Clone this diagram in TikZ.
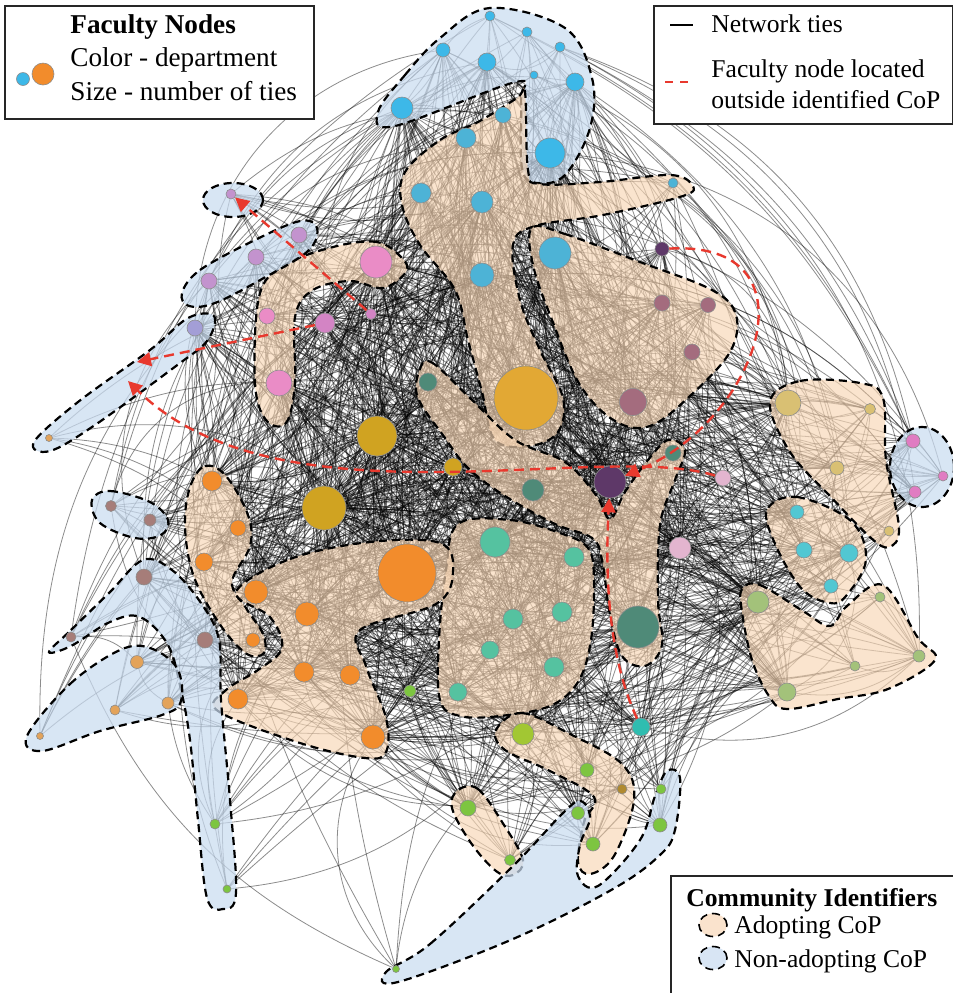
\documentclass[tikz,border=0pt]{standalone}
\usepackage{fontspec}
\setmainfont{Liberation Serif}
\usetikzlibrary{
  arrows.meta,
  shapes.geometric,
  positioning
}
\definecolor{deptcyan}{HTML}{3DB8E8}
\definecolor{deptsky}{HTML}{4DB3D6}
\definecolor{deptgold}{HTML}{E2A834}
\definecolor{deptmauve}{HTML}{A46C7E}
\definecolor{deptplum}{HTML}{5E3868}
\definecolor{deptpink}{HTML}{EA8CC6}
\definecolor{deptorchid}{HTML}{D384C4}
\definecolor{deptlilac}{HTML}{C393CE}
\definecolor{deptlav}{HTML}{A39ED6}
\definecolor{deptsand}{HTML}{E3A35A}
\definecolor{deptpine}{HTML}{4F8A78}
\definecolor{deptochre}{HTML}{D0A321}
\definecolor{deptorange}{HTML}{F28C2C}
\definecolor{deptrose}{HTML}{A67D79}
\definecolor{deptgreen}{HTML}{7DC540}
\definecolor{deptlime}{HTML}{A2C733}
\definecolor{deptbronze}{HTML}{B08A30}
\definecolor{deptmint}{HTML}{55C2A0}
\definecolor{deptteal}{HTML}{2FBDB0}
\definecolor{deptblush}{HTML}{E3B5CF}
\definecolor{deptwheat}{HTML}{D9C073}
\definecolor{deptmagenta}{HTML}{E07CC2}
\definecolor{deptaqua}{HTML}{52C7D2}
\definecolor{deptsage}{HTML}{A3C27A}
\definecolor{adoptfill}{HTML}{F8D6B4}
\definecolor{nonadoptfill}{HTML}{C9DCF0}
\definecolor{movered}{HTML}{E8392E}

\pgfdeclarelayer{ties}
\pgfdeclarelayer{hulls}
\pgfdeclarelayer{keys}
\pgfsetlayers{ties,hulls,main,keys}

% x / y / diameter / department / name  (grid of the figure, y downwards)
\newcommand{\facultylist}{
  490/16/10/deptcyan/top1, 527/32/10/deptcyan/top2, 443/50/14/deptcyan/top3,
  487/62/18/deptcyan/top4, 560/47/10/deptcyan/top5, 534/75/8/deptcyan/top6,
  575/82/18/deptcyan/top7, 402/108/22/deptcyan/top8, 550/153/30/deptcyan/top9,
  503/115/16/deptsky/sky1, 466/138/20/deptsky/sky2, 421/193/20/deptsky/sky3,
  482/202/22/deptsky/sky4, 482/275/24/deptsky/sky5, 555/253/32/deptsky/sky6,
  673/183/10/deptsky/sky7, 526/398/64/deptgold/gold1,
  662/303/16/deptmauve/mau1, 708/305/15/deptmauve/mau2,
  692/352/16/deptmauve/mau3, 633/402/27/deptmauve/mau4,
  662/249/14/deptplum/plum1, 610/482/32/deptplum/plum2,
  376/262/32/deptpink/pink1, 267/316/16/deptpink/pink2,
  279/383/26/deptpink/pink3, 325/323/20/deptorchid/pink4,
  371/314/11/deptorchid/pink5,
  231/194/10/deptlilac/lil1, 299/235/16/deptlilac/lil2,
  256/257/16/deptlilac/lil3, 209/281/16/deptlilac/lil4,
  195/328/16/deptlav/lav1, 49/438/7/deptsand/sand1,
  428/382/18/deptpine/pine1, 533/490/22/deptpine/pine2,
  673/453/16/deptpine/pine3, 638/627/42/deptpine/pine4,
  377/436/40/deptochre/och1, 324/508/44/deptochre/och2,
  453/467/18/deptochre/och3,
  407/573/58/deptorange/org1, 212/481/20/deptorange/org2,
  238/528/16/deptorange/org3, 204/562/18/deptorange/org4,
  256/592/24/deptorange/org5, 307/614/24/deptorange/org6,
  253/640/14/deptorange/org7, 304/672/20/deptorange/org8,
  350/675/20/deptorange/org9, 238/699/20/deptorange/org10,
  373/737/24/deptorange/org11,
  111/506/11/deptrose/ros1, 150/520/12/deptrose/ros2,
  144/577/16/deptrose/ros3, 71/637/10/deptrose/ros4,
  205/640/16/deptrose/ros5,
  137/662/13/deptsand/sand2, 168/703/12/deptsand/sand3,
  115/710/10/deptsand/sand4, 40/736/7/deptsand/sand5,
  215/824/10/deptgreen/grn1, 227/889/8/deptgreen/grn2,
  468/808/16/deptgreen/grn3, 510/860/11/deptgreen/grn4,
  578/813/13/deptgreen/grn5, 661/789/10/deptgreen/grn6,
  660/825/14/deptgreen/grn7, 593/844/14/deptgreen/grn8,
  396/969/7/deptgreen/grn9, 410/691/12/deptgreen/grn10,
  587/770/14/deptgreen/grn11,
  523/734/22/deptlime/lime1, 622/789/10/deptbronze/brz1,
  495/542/30/deptmint/mint1, 574/557/20/deptmint/mint2,
  562/612/20/deptmint/mint3, 513/619/20/deptmint/mint4,
  490/650/18/deptmint/mint5, 554/667/20/deptmint/mint6,
  458/692/18/deptmint/mint7,
  641/727/18/deptteal/teal1,
  723/478/16/deptblush/blush1, 680/548/22/deptblush/blush2,
  788/403/26/deptwheat/wht1, 870/409/11/deptwheat/wht2,
  837/468/14/deptwheat/wht3, 889/531/10/deptwheat/wht4,
  913/441/14/deptmagenta/mag1, 943/476/10/deptmagenta/mag2,
  915/492/12/deptmagenta/mag3,
  797/512/14/deptaqua/aq1, 804/550/16/deptaqua/aq2,
  849/553/18/deptaqua/aq3, 831/586/14/deptaqua/aq4,
  758/602/22/deptsage/sg1, 880/597/10/deptsage/sg2,
  855/666/10/deptsage/sg3, 919/656/12/deptsage/sg4,
  787/692/18/deptsage/sg5}

\begin{document}
\begin{tikzpicture}[
  x=0.5pt, y=-0.5pt,
  fac/.style={circle, draw=black!45, line width=0.3pt, inner sep=0pt},
  tie/.style={draw=black, line width=0.4pt, draw opacity=0.45},
  adopt/.style={draw=black, line width=1.1pt, dash pattern=on 4pt off 2.5pt,
    fill=adoptfill, fill opacity=0.66},
  nonadopt/.style={draw=black, line width=1.1pt, dash pattern=on 4pt off 2.5pt,
    fill=nonadoptfill, fill opacity=0.72},
  movearr/.style={draw=movered, line width=1.2pt, dash pattern=on 5pt off 3pt,
    -{Triangle[length=7pt,width=7pt]}},
  legbox/.style={rectangle, draw=black!85, line width=1pt, fill=white},
  legtext/.style={font=\fontsize{13.6}{16}\selectfont, inner sep=0pt, anchor=base west},
  keytext/.style={legtext, font=\fontsize{12.8}{15}\selectfont}
]
  \useasboundingbox (0,0) rectangle (953,993);

  % faculty nodes
  \foreach \x/\y/\d/\c/\nm [count=\i] in \facultylist {
    \node[fac, minimum size=\d*0.5pt, fill=\c, alias=v\i] (\nm) at (\x,\y) {};
    \expandafter\xdef\csname fd\i\endcsname{\d}
  }

  % network ties
  \begin{pgfonlayer}{ties}
    \pgfmathsetseed{2024}
    \foreach \x/\y/\d/\c/\nm [count=\i] in \facultylist {
      \pgfmathtruncatemacro\nk{\d*0.9}
      \foreach \k in {1,...,\nk} {
        \pgfmathrandominteger{\ja}{1}{100}
        \pgfmathrandominteger{\jb}{1}{100}
        \ifdim\csname fd\ja\endcsname pt<\csname fd\jb\endcsname pt
          \let\j\jb \else \let\j\ja \fi
        \ifnum\j=\i\relax\else
          \pgfmathrandominteger{\bnd}{12}{40}
          \draw[tie] (v\i) to[bend left=\bnd] (v\j);
        \fi
      }
    }
  \end{pgfonlayer}

  % communities of practice
  \begin{pgfonlayer}{hulls}
    \draw[nonadopt] plot[smooth cycle, tension=0.6] coordinates {
      (378,112) (405,75) (440,38) (490,8) (565,28) (592,78) (590,128)
      (565,175) (537,183) (522,168) (521,100) (516,82) (395,126)};
    \draw[adopt] plot[smooth cycle, tension=0.6] coordinates {
      (405,172) (440,140) (478,122) (517,98) (525,92) (528,170) (540,184)
      (600,182) (670,175) (692,185) (683,196) (603,215) (535,226) (513,245)
      (520,300) (540,350) (563,398) (558,432) (530,446) (495,440) (482,392)
      (468,340) (455,290) (420,245) (402,205)};
    \draw[adopt] plot[smooth cycle, tension=0.6] coordinates {
      (532,228) (565,234) (640,262) (712,290) (736,315) (730,352)
      (690,396) (650,426) (615,421) (580,385) (552,320) (533,265)};
    \draw[adopt] plot[smooth cycle, tension=0.6] coordinates {
      (402,258) (377,242) (333,247) (283,266) (259,297) (255,383)
      (266,420) (286,423) (295,383) (295,317) (313,290) (350,281)
      (383,288) (406,272)};
    \draw[nonadopt] (233,200) ellipse [x radius=15pt, y radius=8.5pt];
    \draw[nonadopt] plot[smooth cycle, tension=0.6] coordinates {
      (182,293) (200,270) (255,240) (300,221) (317,228) (308,251)
      (262,279) (215,303) (189,306)};
    \draw[nonadopt] plot[smooth cycle, tension=0.6] coordinates {
      (188,318) (214,316) (207,341) (176,366) (95,425) (50,451)
      (34,442) (78,402) (150,350)};
    \draw[adopt] plot[smooth cycle, tension=0.6] coordinates {
      (419,372) (431,362) (470,398) (515,440) (565,462) (596,495)
      (610,519) (625,492) (648,460) (668,440) (685,450) (675,480)
      (660,525) (658,600) (662,645) (645,666) (622,656) (610,615)
      (602,560) (592,538) (555,524) (505,496) (468,468) (445,438) (418,398)};
    \draw[adopt] plot[smooth cycle, tension=0.6] coordinates {
      (458,524) (510,520) (560,533) (588,548) (594,580) (591,640)
      (578,682) (550,706) (500,716) (460,716) (440,700) (439,640) (446,570)};
    \draw[adopt] plot[smooth cycle, tension=0.6] coordinates {
      (190,487) (205,466) (226,476) (248,515) (250,546) (232,582)
      (246,608) (263,634) (264,653) (247,654) (221,626) (194,577) (185,527)};
    \draw[adopt] plot[smooth cycle, tension=0.6] coordinates {
      (236,592) (290,559) (370,542) (440,543) (453,572) (436,604)
      (360,630) (366,666) (386,718) (386,752) (365,758) (300,743)
      (218,711) (226,690) (258,670) (282,648) (270,617)};
    \draw[nonadopt] plot[smooth cycle, tension=0.6] coordinates {
      (92,500) (110,491) (150,502) (168,520) (161,535) (135,538) (100,523)};
    \draw[nonadopt] plot[smooth cycle, tension=0.6] coordinates {
      (49,652) (71,630) (110,592) (143,560) (172,570) (201,603) (219,640)
      (221,700) (230,800) (236,893) (223,909) (207,898) (198,820) (190,740)
      (181,690) (168,645) (140,617) (110,622) (71,646)};
    \draw[nonadopt] plot[smooth cycle, tension=0.6] coordinates {
      (27,736) (70,684) (120,650) (150,648) (177,668) (181,701)
      (162,715) (100,731) (42,751)};
    \draw[adopt] plot[smooth cycle, tension=0.6] coordinates {
      (770,402) (800,381) (860,383) (883,398) (886,460) (899,528)
      (889,547) (871,538) (830,496) (790,452)};
    \draw[nonadopt] (922,467) ellipse [x radius=16pt, y radius=20pt];
    \draw[adopt] plot[smooth cycle, tension=0.6] coordinates {
      (767,510) (797,497) (851,521) (866,560) (846,596) (830,603)
      (802,589) (776,546)};
    \draw[adopt] plot[smooth cycle, tension=0.6] coordinates {
      (742,589) (760,585) (803,611) (830,626) (847,606) (883,585)
      (918,638) (935,660) (888,689) (838,699) (787,709) (769,696)
      (752,660) (742,612)};
    \draw[adopt] plot[smooth cycle, tension=0.6] coordinates {
      (496,730) (522,713) (570,734) (622,764) (634,800) (614,856)
      (590,874) (578,862) (584,822) (594,797) (550,771) (505,750)};
    \draw[adopt] plot[smooth cycle, tension=0.6] coordinates {
      (458,790) (478,789) (504,825) (523,860) (513,875) (496,871)
      (471,843) (452,808)};
    \draw[nonadopt] plot[smooth cycle, tension=0.6] coordinates {
      (386,972) (430,944) (513,866) (563,813) (581,801) (590,818)
      (580,845) (578,876) (598,886) (640,840) (655,796) (667,771)
      (680,778) (675,830) (660,855) (613,889) (513,939) (398,982)};
  \end{pgfonlayer}

  % faculty nodes located outside identified CoP
  \coordinate (lavspot) at (137,362);
  \coordinate (sandspot) at (128,381);
  \draw[movearr] (pink5) -- (lil1);
  \draw[movearr] (pink4) -- (lavspot);
  \draw[movearr] (blush1) .. controls (600,440) and (280,530) .. (sandspot);
  \draw[movearr] (plum1) .. controls (820,240) and (760,420) .. (plum2);
  \draw[movearr] (teal1) .. controls (605,650) and (606,560) .. (plum2);

  % legends
  \begin{pgfonlayer}{keys}
    \node[legbox, minimum width=154.5pt, minimum height=56.5pt, anchor=north west]
      (nodekey) at (4,5) {};
    \node[legtext] (nodetitle) at (70,33) {\textbf{Faculty Nodes}};
    \node[legtext] (nodecolor) at (70,66) {Color - department};
    \node[legtext] (nodesize) at (70,100) {Size - number of ties};
    \node[fac, minimum size=6.5pt, fill=deptcyan] (keysmall) at (23,79) {};
    \node[fac, minimum size=11pt, fill=deptorange] (keybig) at (43,74) {};

    \node[legbox, minimum width=149.5pt, minimum height=59pt, anchor=north west]
      (tiekey) at (653,5) {};
    \coordinate (tiea) at (670,25);
    \coordinate (tieb) at (693,25);
    \draw[line width=1.2pt] (tiea) -- (tieb);
    \node[keytext] (tietext) at (711,32) {Network ties};
    \coordinate (movea) at (665,82);
    \coordinate (moveb) at (689,82);
    \draw[movered, line width=1.2pt, dash pattern=on 4pt off 3.5pt] (movea) -- (moveb);
    \node[keytext] (movetexta) at (711,77) {Faculty node located};
    \node[keytext] (movetextb) at (711,108) {outside identified CoP};

    \node[legbox, minimum width=145pt, minimum height=70pt, anchor=north west]
      (copkey) at (670,875) {};
    \node[keytext] (coptitle) at (686,906) {\textbf{Community Identifiers}};
    \node[adopt, ellipse, line width=0.8pt, minimum width=14pt, minimum height=11.5pt]
      (adoptkey) at (713,925) {};
    \node[nonadopt, ellipse, line width=0.8pt, minimum width=14pt, minimum height=11.5pt]
      (nonadoptkey) at (713,958) {};
    \node[keytext] (adopttext) at (734,933) {Adopting CoP};
    \node[keytext] (nonadopttext) at (734,967) {Non-adopting CoP};
  \end{pgfonlayer}
\end{tikzpicture}
\end{document}
